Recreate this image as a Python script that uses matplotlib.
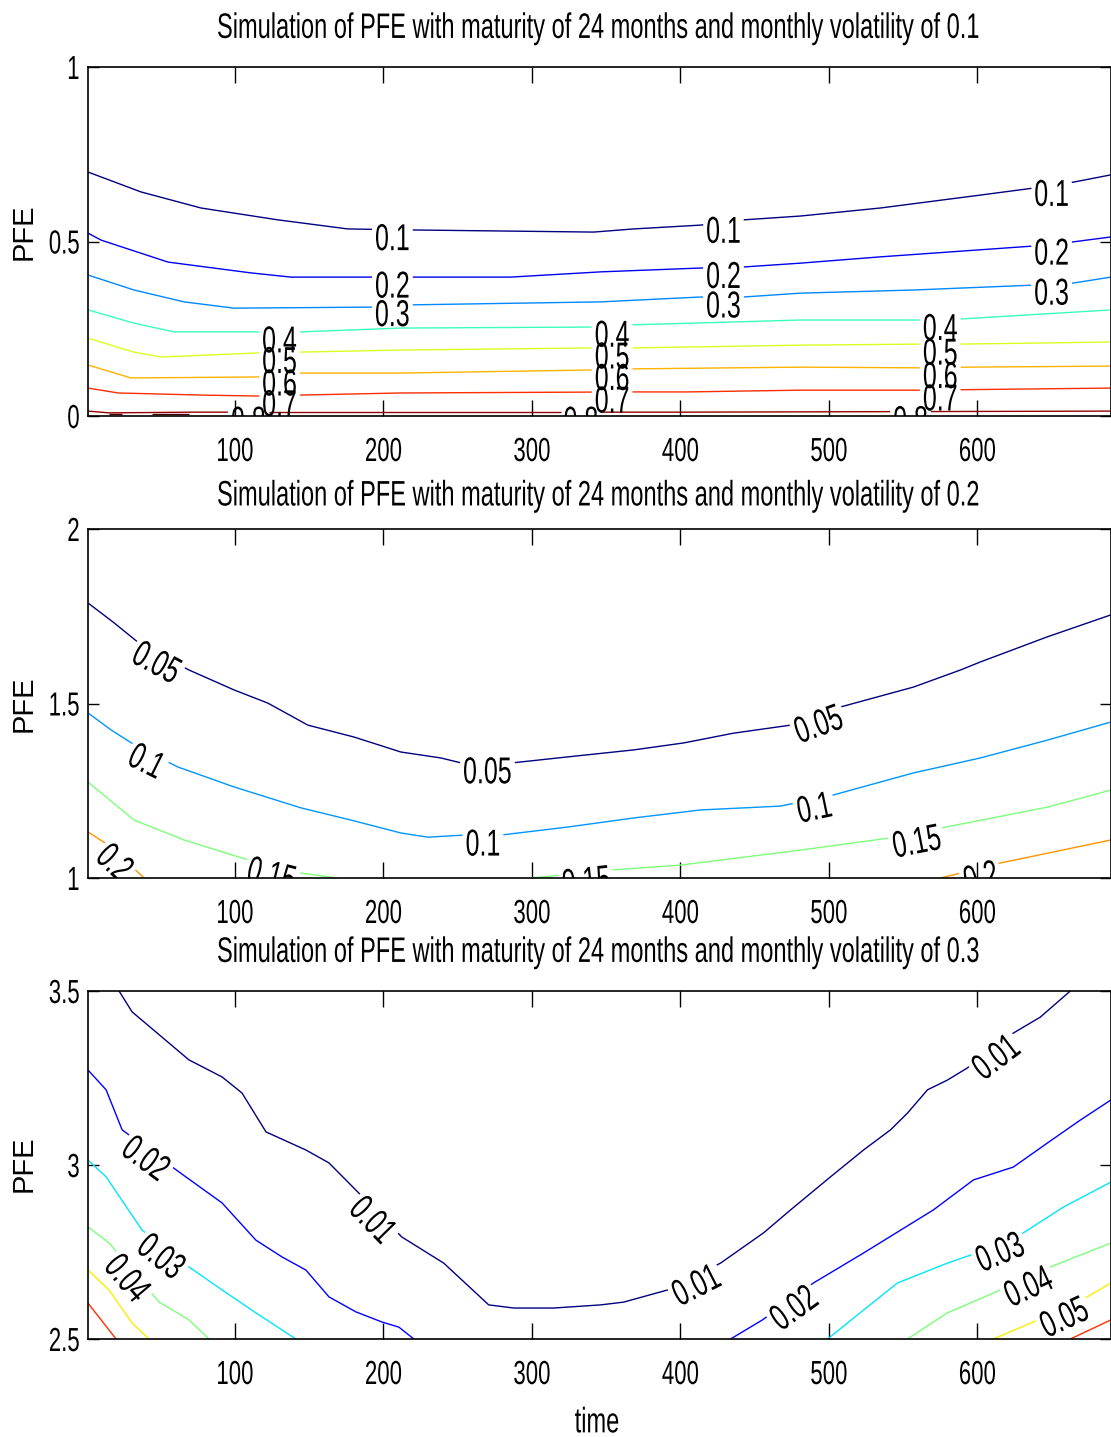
import numpy as np
import matplotlib
matplotlib.use("Agg")
import matplotlib.pyplot as plt
from matplotlib.patheffects import AbstractPathEffect
from matplotlib.transforms import Affine2D

FONT = ["Liberation Sans", "DejaVu Sans"]
plt.rcParams["font.family"] = FONT

# ---------------- values ----------------
time_ticks = [100, 200, 300, 400, 500, 600]
time_range = (1, 690)
volatilities = ["0.1", "0.2", "0.3"]
pfe_ranges = [(0, 1), (1, 2), (2.5, 3.5)]
pfe_ticks = [[0, 0.5, 1], [1, 1.5, 2], [2.5, 3, 3.5]]
pfe_tick_labels = [["0", "0.5", "1"], ["1", "1.5", "2"], ["2.5", "3", "3.5"]]

# volatility 0.1: contour lines (time, PFE)
v1_t_10 = [1, 36.7, 77.1, 128.9, 176.0, 220.5, 341.6, 368.5, 413.6, 442.5, 480.9, 534.7, 602.0, 637.7, 664.6, 690]
v1_p_10 = [0.699, 0.642, 0.596, 0.562, 0.536, 0.533, 0.527, 0.536, 0.547, 0.562, 0.573, 0.596, 0.633, 0.653, 0.670, 0.691]
v1_t_20 = [1, 9.8, 54.9, 110.8, 137.7, 191.5, 220.5, 285.7, 346.3, 413.6, 442.5, 480.9, 534.7, 637.7, 664.6, 690]
v1_p_20 = [0.524, 0.504, 0.441, 0.410, 0.398, 0.398, 0.398, 0.398, 0.413, 0.424, 0.427, 0.438, 0.456, 0.487, 0.499, 0.513]
v1_t_30 = [1, 32.0, 65.7, 99.3, 191.5, 211.7, 346.3, 413.6, 442.5, 480.9, 556.9, 637.7, 664.6, 690]
v1_p_30 = [0.404, 0.361, 0.327, 0.309, 0.312, 0.318, 0.327, 0.341, 0.341, 0.352, 0.361, 0.375, 0.381, 0.398]
v1_t_40 = [1, 32.0, 59.0, 117.5, 144.4, 211.7, 346.3, 366.5, 480.9, 561.6, 588.6, 690]
v1_p_40 = [0.304, 0.266, 0.241, 0.241, 0.241, 0.252, 0.255, 0.261, 0.275, 0.275, 0.278, 0.304]
v1_t_50 = [1, 32.0, 50.2, 117.5, 142.4, 211.7, 341.6, 366.5, 480.9, 561.6, 588.6, 690]
v1_p_50 = [0.223, 0.183, 0.169, 0.181, 0.183, 0.189, 0.195, 0.195, 0.203, 0.206, 0.206, 0.212]
v1_t_60 = [1, 30.0, 117.5, 142.4, 211.7, 341.6, 366.5, 480.9, 561.6, 595.3, 690]
v1_p_60 = [0.146, 0.109, 0.112, 0.123, 0.123, 0.132, 0.135, 0.140, 0.138, 0.140, 0.143]
v1_t_70 = [1, 21.3, 77.1, 117.5, 144.4, 211.7, 366.5, 404.8, 480.9, 561.6, 690]
v1_p_70 = [0.080, 0.066, 0.060, 0.057, 0.060, 0.066, 0.069, 0.069, 0.074, 0.074, 0.080]
v1_t_80 = [1, 15.2, 71.1, 400, 690]
v1_p_80 = [0.014, 0.009, 0.011, 0.011, 0.014]
v1_t_90a = [15.2, 24.0]
v1_p_90a = [0.005, 0.005]
v1_t_90b = [44.1, 69.0]
v1_p_90b = [0.005, 0.005]

# volatility 0.2
v2_t_05 = [1, 18.6, 35.4, 69.0, 99.3, 122.2, 149.1, 180.1, 211.7, 238.6, 252.1, 287.1, 324.1, 368.5,
           402.2, 435.8, 474.2, 507.8, 556.9, 588.6, 602.0, 647.1, 690]
v2_p_05 = [1.788, 1.731, 1.673, 1.596, 1.539, 1.501, 1.438, 1.404, 1.361, 1.344, 1.330, 1.330, 1.347, 1.367,
           1.387, 1.415, 1.438, 1.490, 1.547, 1.596, 1.619, 1.691, 1.754]
v2_t_10 = [1, 16.6, 34.7, 61.6, 99.3, 144.4, 178.1, 211.7, 229.9, 254.1, 279.0, 324.1, 368.5, 413.6,
           467.4, 503.1, 556.9, 602.0, 647.1, 690]
v2_p_10 = [1.473, 1.424, 1.375, 1.318, 1.261, 1.201, 1.166, 1.129, 1.117, 1.123, 1.123, 1.146, 1.172, 1.195,
           1.206, 1.238, 1.301, 1.344, 1.395, 1.447]
v2_t_15a = [1, 32.0, 65.7, 108.7, 144.4, 169.3]
v2_p_15a = [1.275, 1.166, 1.109, 1.052, 1.014, 1.0]
v2_t_15b = [299.2, 321.4, 353.0, 400.1, 480.9, 541.5, 575.1, 647.1, 690]
v2_p_15b = [1.0, 1.009, 1.023, 1.037, 1.080, 1.115, 1.143, 1.203, 1.252]
v2_t_20a = [1, 16.6, 38.8]
v2_p_20a = [1.132, 1.089, 1.0]
v2_t_20b = [575.1, 588.6, 615.5, 690]
v2_p_20b = [1.0, 1.014, 1.043, 1.109]

# volatility 0.3
v3_t_01 = [21.9, 30.7, 46.8, 69.0, 91.3, 104.7, 120.9, 147.8, 163.3, 181.4, 212.4, 240.6, 270.9, 287.8,
           314.7, 346.3, 361.8, 391.4, 427.0, 456.0, 474.2, 501.1, 523.3, 541.5, 552.9, 566.4, 579.8,
           593.3, 624.2, 642.4, 662.6]
v3_p_01 = [3.5, 3.440, 3.382, 3.302, 3.253, 3.207, 3.095, 3.043, 3.006, 2.928, 2.793, 2.718, 2.598, 2.589,
           2.589, 2.598, 2.606, 2.641, 2.718, 2.805, 2.871, 2.966, 3.043, 3.101, 3.149, 3.216, 3.244,
           3.279, 3.379, 3.425, 3.5]
v3_t_02a = [1, 13.2, 24.0, 62.3, 91.3, 114.1, 131.6, 147.8, 163.3, 181.4, 198.9, 210.4, 220.5]
v3_p_02a = [3.273, 3.216, 3.101, 2.980, 2.891, 2.784, 2.736, 2.698, 2.621, 2.578, 2.549, 2.534, 2.5]
v3_t_02b = [433.8, 455.3, 489.6, 523.3, 570.4, 597.3, 624.2, 647.1, 669.3, 690]
v3_p_02b = [2.5, 2.555, 2.661, 2.747, 2.871, 2.957, 2.994, 3.063, 3.129, 3.187]
v3_t_03a = [1, 13.2, 37.4, 69.0, 91.3, 114.1, 141.0]
v3_p_03a = [3.014, 2.966, 2.813, 2.707, 2.641, 2.575, 2.5]
v3_t_03b = [499.1, 523.3, 546.2, 579.8, 595.3, 631.0, 657.9, 690]
v3_p_03b = [2.5, 2.583, 2.661, 2.718, 2.741, 2.805, 2.879, 2.951]
v3_t_04a = [1, 15.2, 48.9, 69.0, 82.5]
v3_p_04a = [2.822, 2.776, 2.606, 2.555, 2.5]
v3_t_04b = [552.9, 579.8, 615.5, 649.1, 690]
v3_p_04b = [2.5, 2.575, 2.641, 2.707, 2.776]
v3_t_05a = [1, 15.2, 30.7, 42.1]
v3_p_05a = [2.698, 2.641, 2.546, 2.5]
v3_t_05b = [610.8, 637.7, 674.0, 690]
v3_p_05b = [2.5, 2.549, 2.621, 2.661]
v3_t_06a = [1, 19.9]
v3_p_06a = [2.603, 2.5]
v3_t_06b = [662.6, 690]
v3_p_06b = [2.5, 2.555]

# ---------------- layout / style ----------------
LABEL_FS = 18
TICK_FS = 16
TITLE_FS = 17
LW = 1.0
LABEL_DROP = 9  # px, labels sit a little under their line
TITLE_PADS = [24, 20, 24]
YLABEL_Y = [0.527, 0.499, 0.503]

jet = plt.cm.jet
# (level text, colour, pieces, label times)
panel1 = [
    ("0.1", jet(0.0), [(v1_t_10, v1_p_10)], [206, 429, 650]),
    ("0.2", jet(0.10), [(v1_t_20, v1_p_20)], [206, 429, 650]),
    ("0.3", jet(0.26), [(v1_t_30, v1_p_30)], [206, 429, 650]),
    ("0.4", jet(0.42), [(v1_t_40, v1_p_40)], [130, 354, 575]),
    ("0.5", jet(0.61), [(v1_t_50, v1_p_50)], [130, 354, 575]),
    ("0.6", jet(0.72), [(v1_t_60, v1_p_60)], [130, 354, 575]),
    ("0.7", jet(0.86), [(v1_t_70, v1_p_70)], [130, 354, 575]),
    ("0.8", jet(0.98), [(v1_t_80, v1_p_80)], [109, 333, 555]),
    ("0.9", "#4a0000", [(v1_t_90a, v1_p_90a), (v1_t_90b, v1_p_90b)], []),
]
panel2 = [
    ("0.05", jet(0.0), [(v2_t_05, v2_p_05)], [50, 270, 491]),
    ("0.1", jet(0.27), [(v2_t_10, v2_p_10)], [43, 267, 489]),
    ("0.15", jet(0.5), [(v2_t_15a, v2_p_15a), (v2_t_15b, v2_p_15b)], [126, 336, 558]),
    ("0.2", jet(0.75), [(v2_t_20a, v2_p_20a), (v2_t_20b, v2_p_20b)], [23, 601]),
]
panel3 = [
    ("0.01", jet(0.0), [(v3_t_01, v3_p_01)], [197, 408, 609]),
    ("0.02", jet(0.12), [(v3_t_02a, v3_p_02a), (v3_t_02b, v3_p_02b)], [43.5, 473]),
    ("0.03", jet(0.35), [(v3_t_03a, v3_p_03a), (v3_t_03b, v3_p_03b)], [54, 613]),
    ("0.04", jet(0.5), [(v3_t_04a, v3_p_04a), (v3_t_04b, v3_p_04b)], [32, 632]),
    ("0.05", jet(0.66), [(v3_t_05a, v3_p_05a), (v3_t_05b, v3_p_05b)], [656]),
    ("0.06", jet(0.86), [(v3_t_06a, v3_p_06a), (v3_t_06b, v3_p_06b)], []),
]
panels = [(panel1, False), (panel2, True), (panel3, True)]


class Tall(AbstractPathEffect):
    """Draw glyphs stretched vertically (the source image is tall and narrow)."""

    def __init__(self, k=1.5, mid=36):
        super().__init__()
        self.k = k
        self.mid = mid

    def draw_path(self, renderer, gc, tpath, affine, rgbFace=None):
        st = Affine2D().translate(0, -self.mid).scale(1, self.k).translate(0, self.mid)
        renderer.draw_path(gc, tpath, st + affine, rgbFace)


TALL = [Tall()]


def draw_level(ax, rend, xs, ys, text, color, label_ts, rotate):
    xs = np.asarray(xs, float)
    ys = np.asarray(ys, float)
    pts = ax.transData.transform(np.column_stack([xs, ys]))
    s = np.concatenate([[0.0], np.cumsum(np.hypot(*np.diff(pts, axis=0).T))])

    def at(sv):
        return np.array([np.interp(sv, s, pts[:, 0]), np.interp(sv, s, pts[:, 1])])

    inv = ax.transData.inverted()
    cuts = []
    for lt in label_ts:
        if not xs[0] <= lt <= xs[-1]:
            continue
        sc = np.interp(lt, xs, s)
        t = ax.text(0, 0, text, fontsize=LABEL_FS, ha="center", va="center",
                    clip_on=True, zorder=3, path_effects=TALL)
        w = t.get_window_extent(renderer=rend).width
        ang = 0.0
        if rotate:
            d = at(sc + 6) - at(sc - 6)
            ang = np.degrees(np.arctan2(d[1], d[0]))
            if ang > 90:
                ang -= 180
            elif ang < -90:
                ang += 180
        a = np.radians(ang)
        c = at(sc) + LABEL_DROP * np.array([np.sin(a), -np.cos(a)])
        t.set_position(inv.transform(c))
        t.set_rotation(ang)
        t.set_rotation_mode("anchor")
        cuts.append((sc - w / 2 - 3, sc + w / 2 + 3))

    spans = []
    start = 0.0
    for a0, b0 in sorted(cuts):
        if a0 > start:
            spans.append((start, a0))
        start = max(start, b0)
    if start < s[-1]:
        spans.append((start, s[-1]))
    for a0, b0 in spans:
        inner = (s > a0) & (s < b0)
        seg = inv.transform(np.vstack([at(a0), pts[inner], at(b0)]))
        ax.plot(seg[:, 0], seg[:, 1], color=color, lw=LW, solid_capstyle="butt")


fig = plt.figure(figsize=(11.11, 14.37), dpi=100)
rend = fig.canvas.get_renderer()

left = 88 / 1111
width = 1 - left
bottoms = [(1437 - 416) / 1437, (1437 - 878) / 1437, (1437 - 1339) / 1437]
heights = [349 / 1437, 349 / 1437, 348 / 1437]

for i in range(3):
    ax = fig.add_axes([left, bottoms[i], width, heights[i]])
    ax.set_xlim(time_range)
    ax.set_ylim(pfe_ranges[i])
    ax.set_xticks(time_ticks)
    ax.set_xticklabels([str(v) for v in time_ticks])
    ax.set_yticks(pfe_ticks[i])
    ax.set_yticklabels(pfe_tick_labels[i])
    ax.tick_params(axis="x", direction="in", length=11.5, width=1, top=True,
                   pad=18, labelsize=TICK_FS)
    ax.tick_params(axis="y", direction="in", length=8, width=1, right=True,
                   pad=6, labelsize=TICK_FS)
    for sp in ax.spines.values():
        sp.set_linewidth(1.2)
    title = ax.set_title("Simulation of PFE with maturity of 24 months and monthly volatility of "
                         + volatilities[i], fontsize=TITLE_FS, pad=TITLE_PADS[i])
    title.set_path_effects(TALL)
    ax.set_ylabel("PFE", fontsize=21, va="center")
    ax.yaxis.set_label_coords(-0.0626, YLABEL_Y[i])

    levels, rotate = panels[i]
    for text, color, pieces, label_ts in levels:
        for xs, ys in pieces:
            draw_level(ax, rend, xs, ys, text, color, label_ts, rotate)

    if i == 2:
        xl = ax.set_xlabel("time", fontsize=TITLE_FS, va="baseline")
        xl.set_path_effects(TALL)
        ax.xaxis.set_label_coords(0.4976, -0.256)

    for lab in ax.get_xticklabels() + ax.get_yticklabels():
        lab.set_path_effects(TALL)

fig.savefig("out.png", dpi=100)
